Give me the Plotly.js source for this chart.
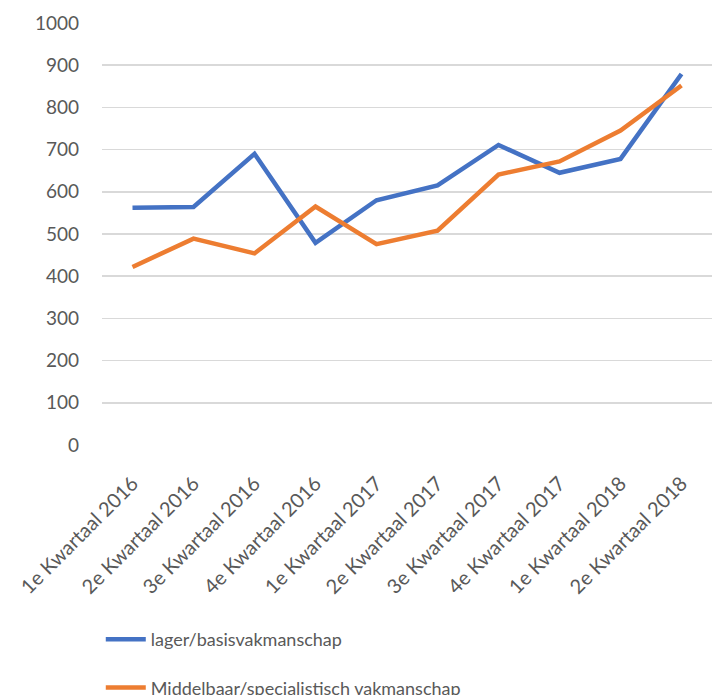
<!DOCTYPE html>
<html>
<head>
<meta charset="utf-8">
<script src="https://cdn.plot.ly/plotly-3.0.1.min.js"></script>
<style>
  html, body { margin: 0; padding: 0; background: #fff; }
  #chart { width: 712px; height: 695px; }
</style>
</head>
<body>
<div id="chart"></div>
<script>
// Quarter labels on the x axis
const quarters = [
    '1e Kwartaal 2016', '2e Kwartaal 2016', '3e Kwartaal 2016', '4e Kwartaal 2016',
    '1e Kwartaal 2017', '2e Kwartaal 2017', '3e Kwartaal 2017', '4e Kwartaal 2017',
    '1e Kwartaal 2018', '2e Kwartaal 2018'
];

// Series values
const lagerBasis = [562, 564, 690, 479, 580, 615, 711, 645, 678, 879];
const middelbaarSpec = [422, 489, 454, 565, 476, 508, 641, 672, 745, 852];

const seriesNames = ['lager/basisvakmanschap', 'Middelbaar/specialistisch vakmanschap'];
const yTicks = [0, 100, 200, 300, 400, 500, 600, 700, 800, 900, 1000];

const textColor = '#595959';
const gridColor = '#d9d9d9';

const traces = [
    {
        x: quarters,
        y: lagerBasis,
        name: seriesNames[0],
        legendgroup: 'a',
        type: 'scatter',
        mode: 'lines',
        line: { color: '#4472C4', width: 4.5 }
    },
    {
        x: quarters,
        y: middelbaarSpec,
        name: seriesNames[1],
        legendgroup: 'b',
        type: 'scatter',
        mode: 'lines',
        line: { color: '#ED7D31', width: 4.5 }
    }
];

const layout = {
    width: 712,
    height: 695,
    // fixed margins so the legend running off the bottom doesn't shrink the plot
    margin: { l: 102, r: 0, t: 23, b: 250, autoexpand: false },
    paper_bgcolor: '#ffffff',
    plot_bgcolor: '#ffffff',
    font: { family: 'Lato, "Open Sans", sans-serif', size: 17, color: textColor },
    xaxis: {
        type: 'category',
        range: [-0.5, quarters.length - 0.5],
        automargin: false,
        tickangle: -45,
        showgrid: false,
        showline: false,
        zeroline: false,
        ticks: '',
        tickfont: { size: 20, color: textColor },
        ticklabelstandoff: 22
    },
    yaxis: {
        range: [0, 1000],
        automargin: false,
        tickvals: yTicks,
        ticktext: yTicks.map(String),
        showgrid: true,
        gridcolor: gridColor,
        gridwidth: 1.5,
        zeroline: false,
        showline: false,
        ticks: '',
        ticklabelstandoff: 22,
        tickfont: { size: 19, color: textColor }
    },
    showlegend: true,
    legend: {
        x: -0.002,
        y: -0.417,
        xanchor: 'left',
        yanchor: 'top',
        orientation: 'v',
        tracegroupgap: 22,
        itemwidth: 40,
        font: { size: 18, color: textColor },
        bgcolor: 'rgba(0,0,0,0)'
    }
};

Plotly.newPlot('chart', traces, layout, { displayModeBar: false, staticPlot: true });
</script>
</body>
</html>
